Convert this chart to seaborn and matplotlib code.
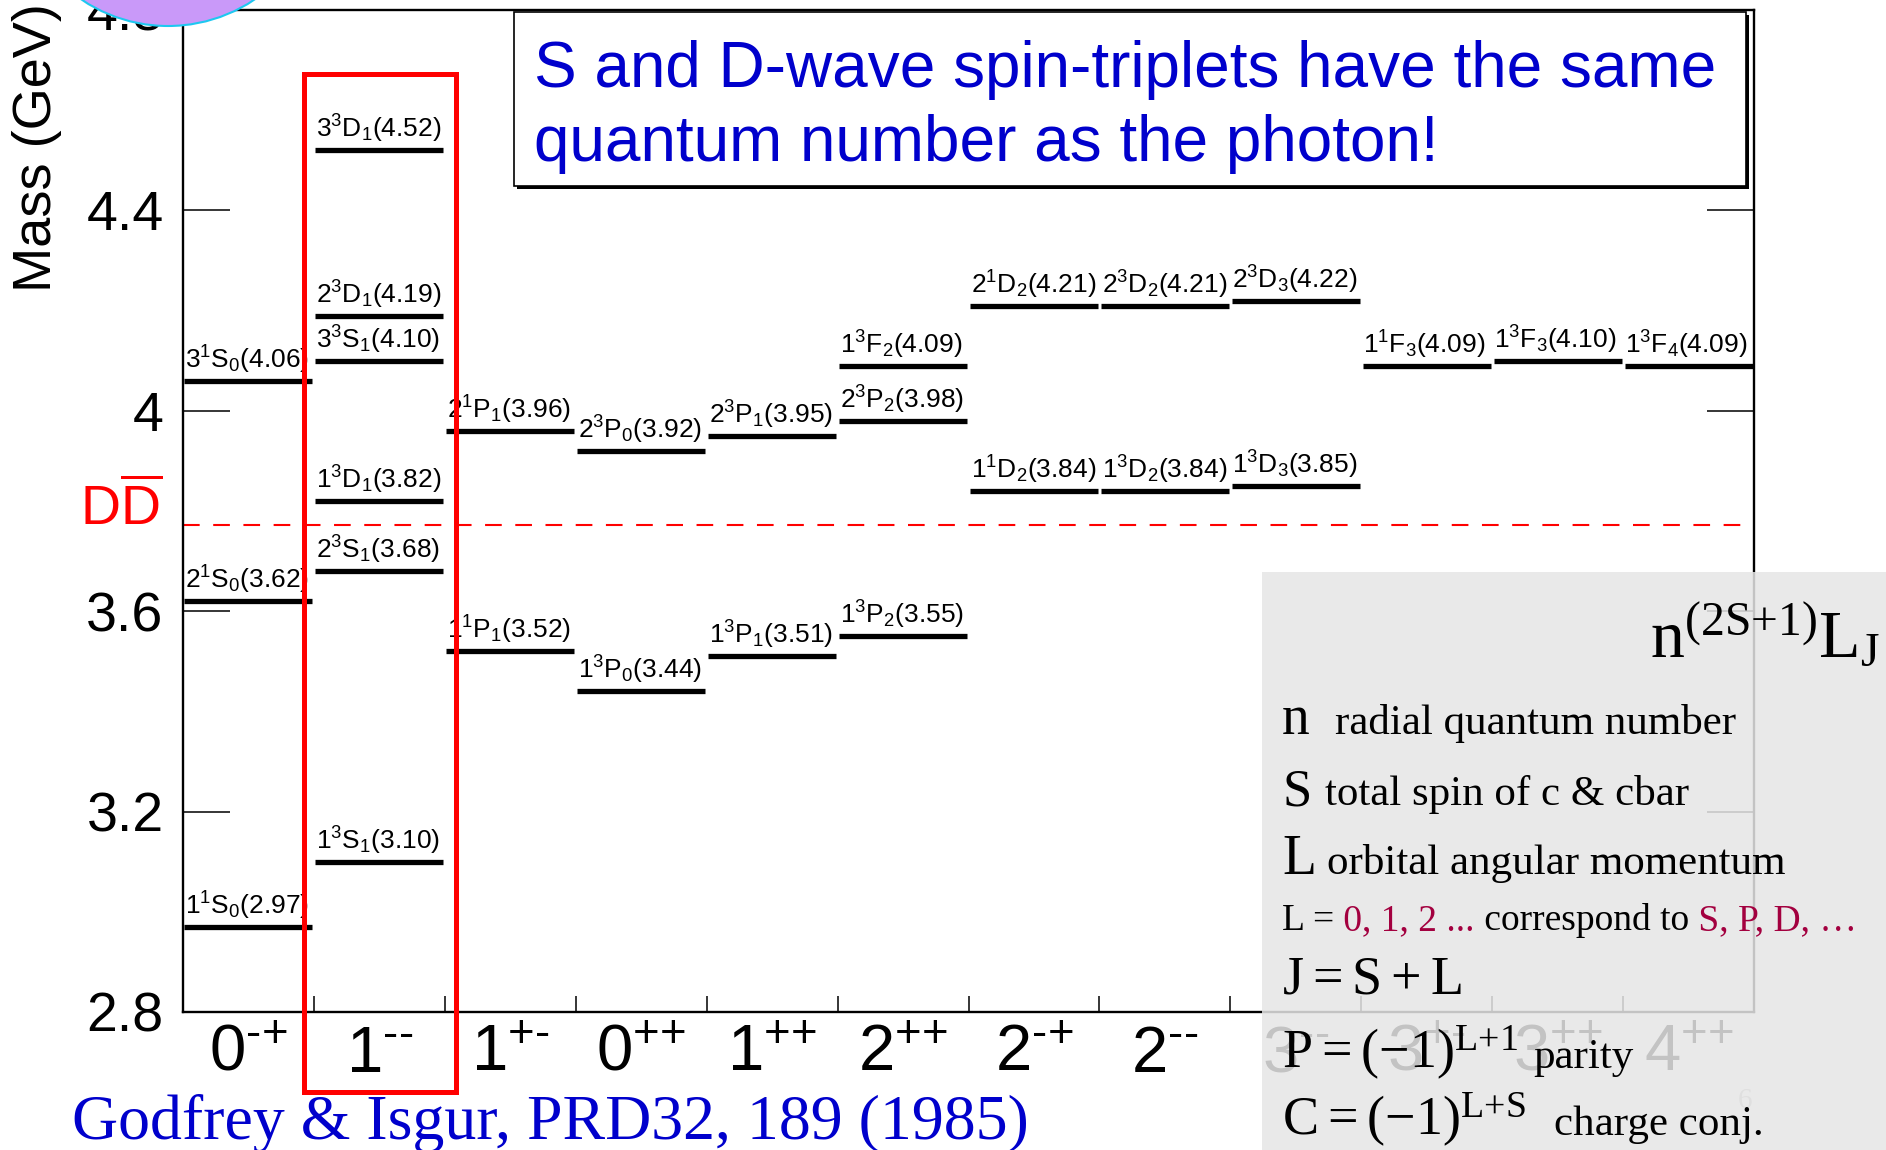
import matplotlib
matplotlib.use("Agg")
import matplotlib.pyplot as plt
from matplotlib.patches import Rectangle, Ellipse
from matplotlib.text import Annotation
import pandas as pd
import seaborn as sns

W, H, DPI = 1886, 1150, 100

# J^PC columns along the x axis
jpc_spin = ["0", "1", "1", "0", "1", "2", "2", "2", "3", "3", "3", "4"]
jpc_pc = ["-+", "--", "+-", "++", "++", "++", "-+", "--", "--", "+-", "++", "++"]

# Godfrey-Isgur charmonium levels: column, n, 2S+1, L, J, mass (GeV)
level_col = [0, 0, 0, 1, 1, 1, 1, 1, 1, 2, 2, 3, 3, 4, 4, 5, 5, 5, 6, 6, 7, 7, 8, 8, 9, 10, 11]
level_n = [1, 2, 3, 1, 2, 1, 3, 2, 3, 1, 2, 1, 2, 1, 2, 1, 2, 1, 1, 2, 1, 2, 1, 2, 1, 1, 1]
level_mult = [1, 1, 1, 3, 3, 3, 3, 3, 3, 1, 1, 3, 3, 3, 3, 3, 3, 3, 1, 1, 3, 3, 3, 3, 1, 3, 3]
level_L = ["S", "S", "S", "S", "S", "D", "S", "D", "D", "P", "P", "P", "P", "P", "P",
           "P", "P", "F", "D", "D", "D", "D", "D", "D", "F", "F", "F"]
level_J = [0, 0, 0, 1, 1, 1, 1, 1, 1, 1, 1, 0, 0, 1, 1, 2, 2, 2, 2, 2, 2, 2, 3, 3, 3, 3, 4]
level_mass = [2.97, 3.62, 4.06, 3.10, 3.68, 3.82, 4.10, 4.19, 4.52, 3.52, 3.96, 3.44, 3.92,
              3.51, 3.95, 3.55, 3.98, 4.09, 3.84, 4.21, 3.84, 4.21, 3.85, 4.22, 4.09, 4.10, 4.09]

y_ticks = [2.8, 3.2, 3.6, 4.0, 4.4, 4.8]
y_tick_labels = ["2.8", "3.2", "3.6", "4", "4.4", "4.8"]
dd_threshold = 3.773
highlight_col = 1

BLUE = "#0000CC"
RED = "#FF0000"
DARKRED = "#A3003F"


def fx(x):
    return x / W


def fy(y):
    # y measured from the top of the image
    return 1 - y / H


sns.set_theme(style="white")
plt.rcParams["font.family"] = ["Liberation Sans", "DejaVu Sans"]
plt.rcParams["mathtext.fontset"] = "custom"
plt.rcParams["mathtext.rm"] = "Liberation Sans"
plt.rcParams["mathtext.it"] = "Liberation Sans:italic"
plt.rcParams["mathtext.bf"] = "Liberation Sans:bold"

fig = plt.figure(figsize=(W / DPI, H / DPI), dpi=DPI)
ax = fig.add_axes([fx(183), fy(1012), (1754 - 183) / W, (1012 - 10) / H])

levels = pd.DataFrame({
    "col": level_col, "n": level_n, "mult": level_mult,
    "L": level_L, "J": level_J, "mass": level_mass,
})
levels["label"] = [
    rf"$\mathregular{{{r.n}^{{{r.mult}}}{r.L}_{{{r.J}}}}}$({r.mass:.2f})"
    for r in levels.itertuples()
]

# level bars: one horizontal line marker per state, as wide as its column
bar_pt = ax.get_position().width * fig.get_figwidth() * 72 / len(jpc_spin) * 0.985
sns.scatterplot(data=levels, x="col", y="mass", marker="_", s=bar_pt ** 2,
                color="black", linewidth=3.8, legend=False, ax=ax, zorder=3)

for r in levels.itertuples():
    ax.annotate(r.label, xy=(r.col - 0.5, r.mass), xytext=(1.5, 3.5),
                textcoords="offset points", ha="left", va="bottom",
                fontsize=19, color="black", zorder=4)

# D Dbar threshold
ax.axhline(dd_threshold, color=RED, lw=1.5, dashes=(8, 6.5), zorder=2)
ax.annotate(r"$\mathregular{D\overline{D}}$", xy=(0, dd_threshold),
            xycoords=("axes fraction", "data"), xytext=(-15, 0),
            textcoords="offset points", ha="right", va="baseline",
            color=RED, fontsize=40, annotation_clip=False)

# red frame around the 1-- column
ax.add_patch(Rectangle((highlight_col - 0.576, 2.64), 1.164, 2.033, fill=False,
                       ec=RED, lw=3.6, clip_on=False, zorder=6))

# J^PC labels: short hyphens, each sign braced so mathtext adds no spacing
pc_text = ["".join("{%s}" % ch.replace("-", "\u2010") for ch in pc) for pc in jpc_pc]
ax.set_xlim(-0.5, len(jpc_spin) - 0.5)
ax.set_ylim(y_ticks[0], y_ticks[-1])
ax.set_xticks([i + 0.5 for i in range(len(jpc_spin) - 1)])
ax.set_xticklabels([])
ax.set_xticks(range(len(jpc_spin)),
              labels=[rf"$\mathregular{{{s}^{{{pc}}}}}$" for s, pc in zip(jpc_spin, pc_text)],
              minor=True)
ax.tick_params(axis="x", which="major", direction="in", length=11.5, width=1.1,
               bottom=True, top=False, color="black")
ax.tick_params(axis="x", which="minor", length=0, labelsize=47, pad=9,
               labelcolor="black")
ax.set_yticks(y_ticks, labels=y_tick_labels)
ax.tick_params(axis="y", direction="in", length=34, width=1.1, left=True, right=True,
               labelsize=40, pad=14, color="black", labelcolor="black")
for sp in ax.spines.values():
    sp.set_visible(True)
    sp.set_color("black")
    sp.set_linewidth(1.7)

ax.set_xlabel("")
ax.set_ylabel("Mass (GeV)", fontsize=39, color="black")
ax.yaxis.label.set_verticalalignment("center")
ax.yaxis.set_label_coords((37 - 183) / 1571, (1012 - 148) / 1002)

# title box with a small shadow
box_w, box_h = (1746 - 514) / W, (186 - 12) / H
fig.add_artist(Rectangle((fx(517), fy(189)), box_w, box_h, fc="black", ec="none",
                         transform=fig.transFigure, zorder=7))
fig.add_artist(Rectangle((fx(514), fy(186)), box_w, box_h, fc="white", ec="black",
                         lw=1.2, transform=fig.transFigure, zorder=8))
fig.text(fx(534), fy(87), "S and D-wave spin-triplets have the same",
         fontsize=46, color=BLUE, va="baseline", zorder=9)
fig.text(fx(534), fy(161), "quantum number as the photon!",
         fontsize=46, color=BLUE, va="baseline", zorder=9)

fig.text(fx(72), fy(1139), "Godfrey & Isgur, PRD32, 189 (1985)", fontsize=46,
         family="Liberation Serif", color=BLUE, va="baseline")

# decorative disc in the top-left corner
fig.add_artist(Ellipse((fx(168), fy(-129)), 2 * 155 / W, 2 * 155 / H,
                       transform=fig.transFigure, fc="#c999f9", ec="#1ec8f0",
                       lw=1.5, zorder=12))

fig.text(fx(1738), fy(1108), "6", fontsize=21, color="#b8b8b8",
         family="Liberation Serif", va="baseline", zorder=5)

# grey notation panel
fig.add_artist(Rectangle((fx(1262), 0), (W - 1262) / W, (H - 572) / H,
                         transform=fig.transFigure, fc="#e6e6e6", ec="none",
                         alpha=0.85, zorder=10))


def ftext(x, y, s, size, color="black", **kw):
    return fig.text(fx(x), fy(y), s, fontsize=size, color=color,
                    family="Liberation Serif", va="baseline", zorder=11, **kw)


def chain(prev, s, y, size, color="black", gap=0):
    ann = Annotation(s, xy=(1, fy(y)), xycoords=(prev, "figure fraction"),
                     xytext=(gap, 0), textcoords="offset points",
                     ha="left", va="baseline", fontsize=size, color=color,
                     family="Liberation Serif", zorder=11)
    fig.add_artist(ann)
    return ann


ftext(1880, 657, r"$\mathregular{n^{(2S{+}1)}L_J}$", 49, ha="right")
ftext(1282, 734, "n", 40)
ftext(1335, 734, "radial quantum number", 31)
ftext(1282, 805, "S", 38)
ftext(1325, 805, "total spin of c & cbar", 31)
ftext(1282, 874, "L", 40)
ftext(1327, 874, "orbital angular momentum", 31)
t = ftext(1282, 930, "L =", 27)
t = chain(t, " 0, 1, 2 ...", 930, 27, DARKRED)
t = chain(t, " correspond to", 930, 27)
chain(t, " S, P, D, \u2026", 930, 27, DARKRED)
ftext(1282, 994, r"$\mathregular{J = S + L}$", 39)
t = ftext(1282, 1068, r"$\mathregular{P = (-1)^{L{+}1}}$", 39)
chain(t, "parity", 1068, 31, gap=11)
t = ftext(1282, 1135, r"$\mathregular{C = (-1)^{L{+}S}}$", 39)
chain(t, "charge conj.", 1135, 31, gap=20)

fig.savefig("out.png", dpi=DPI)
